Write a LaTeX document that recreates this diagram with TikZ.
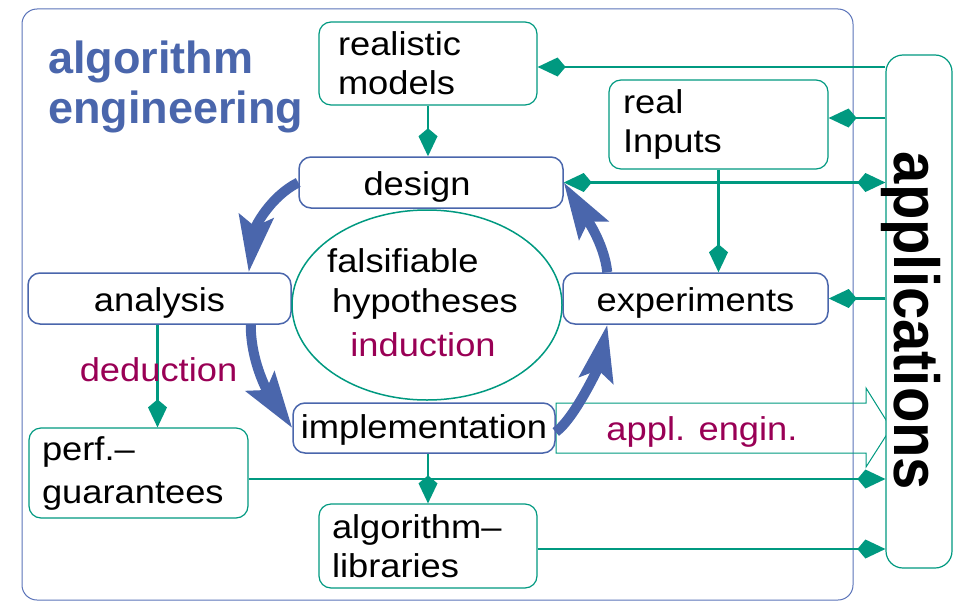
\documentclass[tikz,border=0pt]{standalone}
\usepackage{graphicx}
\usepackage{fontspec}
\setmainfont{Liberation Sans}[FakeStretch=1.1]
\newfontfamily\titlefont{Liberation Sans}
\usetikzlibrary{arrows.meta,shapes.geometric}
\definecolor{aeblue}{RGB}{74,102,172}
\definecolor{aeframe}{RGB}{90,115,185}
\definecolor{aegreen}{RGB}{0,153,128}
\definecolor{aemag}{RGB}{153,0,85}
\begin{document}
\begin{tikzpicture}[x=1pt,y=-1pt,
  every node/.style={font=\fontsize{33}{39}\selectfont, inner sep=0pt},
  bbox/.style={draw=aeblue, line width=1.5pt, rounded corners=12pt, fill=white, text height=26pt, text depth=0pt},
  gbox/.style={draw=aegreen, line width=1.2pt, rounded corners=12pt, fill=white, align=left},
  conn/.style={draw=aegreen, line width=2.2pt, >={Kite[length=28pt,width=19pt,inset=8pt]}, ->},
  biconn/.style={draw=aegreen, line width=2.2pt, >={Kite[length=28pt,width=19pt,inset=8pt]}, <->},
  cycarrow/.style={draw=aeblue, line width=10pt, -{Stealth[length=56pt,width=34pt,inset=10pt]}},
  magtext/.style={text=aemag},
]
\useasboundingbox (0,0) rectangle (957,602);

% outer frame
\draw[aeframe, line width=1pt, rounded corners=15pt] (22,9) rectangle (853,600);

% title
\node[anchor=base west, text=aeblue, font=\titlefont\bfseries\fontsize{45}{50}\selectfont] (title1) at (48,73) {algorithm};
\node[anchor=base west, text=aeblue, font=\titlefont\bfseries\fontsize{45}{50}\selectfont] (title2) at (48,123) {engineering};

% appl. engin. hollow arrow
\draw[aegreen, line width=1pt] (556,403) -- (866,403) -- (866,388) -- (891,428) -- (866,467) -- (866,453) -- (556,453) -- cycle;

% applications box
\node[draw=aegreen, line width=1.2pt, rounded corners=17pt, fill=white, minimum width=66pt, minimum height=513pt] (app) at (919,311.5) {};
\node[rotate=-90, font=\titlefont\bfseries\fontsize{58}{60}\selectfont] (apptext) at (911,321) {\scalebox{1}[1.1]{applications}};

% boxes
\node[gbox, text width=180pt, inner xsep=19pt, minimum height=83pt] (models) at (428,63.5) {realistic\\models};
\node[gbox, text width=191pt, inner xsep=14pt, minimum height=89pt] (inputs) at (718.5,124.5) {real\\Inputs};
\node[bbox, minimum width=264pt, minimum height=51pt] (design) at (431,182.5) {design\hspace*{28pt}};
\node[bbox, minimum width=263pt, minimum height=51pt] (analysis) at (159.5,298.5) {analysis};
\node[bbox, minimum width=265pt, minimum height=51pt] (exper) at (695.5,298.5) {experiments};
\node[bbox, minimum width=262pt, minimum height=50pt, text height=20pt] (impl) at (424,428) {implementation};
\node[gbox, text width=193pt, inner xsep=13pt, minimum height=90pt, font=\fontsize{33}{43}\selectfont] (perf) at (138.5,473) {perf.–\\guarantees};
\node[gbox, text width=192pt, inner xsep=13pt, minimum height=84pt] (libs) at (428,546) {algorithm–\\libraries};

% hypotheses ellipse
\node[ellipse, draw=aegreen, line width=1.5pt, minimum width=270pt, minimum height=190pt] (hyp) at (427,305) {};
\node[anchor=base west] (fals) at (327,272) {falsifiable};
\node[anchor=base west] (hypo) at (332,312) {hypotheses};
\node[anchor=base, magtext] (induct) at (423,356) {induction};

% connectors
\draw[conn] (app.west |- 0,67) -- ([yshift=-3.5pt]models.east);
\draw[conn] (app.west |- 0,118) -- ([yshift=6.5pt]inputs.east);
\draw[biconn] (design.east) -- (app.west |- design.east);
\draw[conn] (app.west |- exper.east) -- (exper.east);
\draw[conn] (inputs.south) -- (inputs.south |- exper.north);
\draw[conn] (models.south) -- (models.south |- design.north);
\draw[conn] ([xshift=-2pt]analysis.south) -- ([xshift=-2pt]analysis.south |- perf.north);
\draw[conn] (libs.north |- impl.south) -- (libs.north);
\draw[conn] ([yshift=-6pt]perf.east) -- (app.west |- 0,479);
\draw[conn] ([yshift=-3pt]libs.east) -- (app.west |- 0,549);

% labels
\node[anchor=base, magtext] (deduct) at (158.5,381) {deduction};
\node[anchor=base, magtext] (applengin) at (702,440) {appl. engin.};

% cycle arrows
\draw[cycarrow] (design.west) .. controls +(-28,14) and +(6,-45) .. ([xshift=-43pt]analysis.north east);
\draw[cycarrow] ([xshift=-41pt]analysis.south east) .. controls +(0,40) and +(-22,-32) .. (impl.west);
\draw[cycarrow] ([yshift=-4pt]impl.east) .. controls +(20,-15) and +(-8,40) .. ([xshift=45pt]exper.south west);
\draw[cycarrow] ([xshift=45pt]exper.north west) .. controls +(-3,-30) and +(20,32) .. (design.east);
\end{tikzpicture}
\end{document}
